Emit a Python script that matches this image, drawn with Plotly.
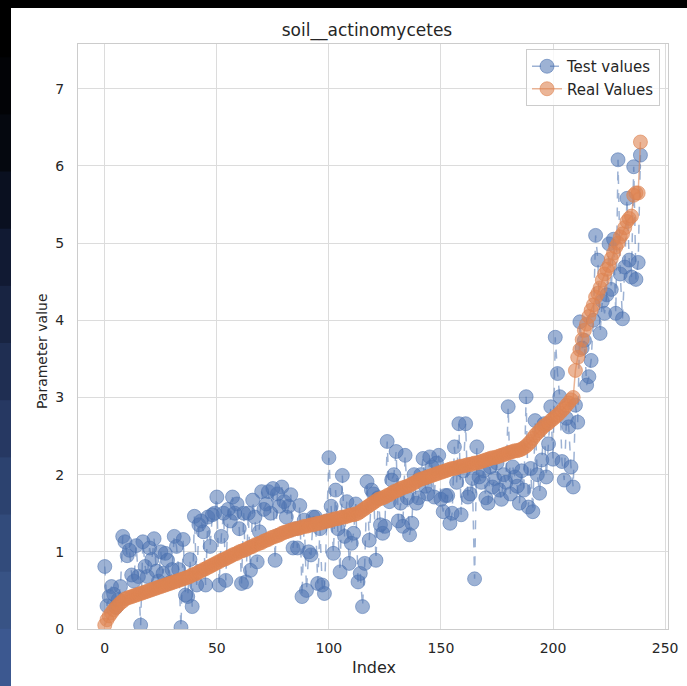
import plotly.graph_objects as go

# ---- data ----
test_values = [
    0.81, 0.30, 0.42, 0.55, 0.45, 0.28, 0.38, 0.55, 1.20, 1.13,
    0.95, 1.02, 0.70, 0.62, 1.08, 0.68, 0.05, 1.13, 0.81, 0.68,
    1.05, 0.90, 1.17, 0.75, 0.62, 1.00, 0.72, 0.98, 0.89, 0.60,
    0.77, 1.20, 1.07, 0.77, 0.02, 1.16, 0.44, 0.42, 0.90, 0.29,
    1.46, 0.57, 1.35, 1.40, 1.26, 0.57, 1.45, 1.07, 1.48, 1.50,
    1.71, 0.57, 1.20, 1.50, 0.63, 1.55, 1.40, 1.71, 1.50, 1.62,
    1.30, 0.59, 1.50, 0.61, 1.50, 0.76, 1.67, 1.45, 0.87, 1.26,
    1.78, 1.55, 1.62, 1.78, 1.50, 1.82, 0.89, 1.75, 1.59, 1.84,
    1.65, 1.45, 1.59, 1.74, 1.05, 1.30, 1.05, 1.60, 0.42, 1.41,
    0.50, 1.00, 0.96, 1.45, 1.45, 0.59, 1.30, 0.57, 0.46, 1.40,
    2.22, 1.59, 0.98, 1.80, 1.30, 0.74, 1.99, 1.20, 1.65, 0.85,
    1.11, 1.24, 1.62, 0.61, 0.72, 0.29, 0.85, 1.91, 1.15, 1.80,
    1.75, 0.89, 1.70, 1.35, 1.24, 1.33, 2.43, 1.65, 1.93, 2.00,
    2.30, 1.40, 1.63, 1.33, 2.25, 1.70, 1.22, 1.37, 2.00, 1.63,
    1.70, 2.00, 2.21, 1.85, 1.75, 2.23, 2.10, 1.71, 2.15, 2.25,
    1.68, 1.52, 1.73, 1.73, 1.37, 1.50, 2.36, 1.90, 2.66, 1.48,
    2.05, 2.66, 1.71, 1.75, 1.95, 0.65, 2.36, 1.97, 1.90, 2.05,
    1.70, 1.63, 2.10, 1.84, 1.95, 2.15, 1.80, 1.68, 2.00, 1.90,
    2.88, 1.75, 2.10, 1.97, 1.85, 1.63, 2.05, 1.80, 3.01, 1.58,
    2.08, 1.52, 2.70, 2.00, 1.76, 2.19, 2.66, 1.97, 2.40, 2.88,
    2.20, 3.78, 3.31, 3.01, 2.17, 1.93, 2.73, 2.62, 2.10, 1.84,
    2.90, 2.68, 3.98, 3.64, 3.74, 3.16, 3.27, 3.48, 4.00, 5.10,
    4.78, 3.83, 4.25, 4.09, 4.33, 4.99, 4.40, 5.05, 4.09, 6.08,
    4.60, 4.02, 4.69, 5.58, 4.78, 4.56, 5.99, 4.53, 4.75, 6.14,
]

real_values = [
    0.05, 0.12, 0.17, 0.21, 0.25, 0.28, 0.31, 0.34, 0.36, 0.39,
    0.40, 0.41, 0.42, 0.43, 0.44, 0.45, 0.46, 0.47, 0.48, 0.49,
    0.50, 0.51, 0.52, 0.53, 0.54, 0.55, 0.56, 0.57, 0.58, 0.59,
    0.60, 0.61, 0.62, 0.63, 0.64, 0.65, 0.66, 0.67, 0.68, 0.70,
    0.71, 0.72, 0.74, 0.75, 0.77, 0.78, 0.80, 0.81, 0.83, 0.84,
    0.86, 0.87, 0.89, 0.90, 0.91, 0.93, 0.94, 0.96, 0.97, 0.98,
    1.00, 1.01, 1.02, 1.03, 1.05, 1.06, 1.07, 1.09, 1.10, 1.11,
    1.12, 1.14, 1.15, 1.16, 1.18, 1.19, 1.20, 1.21, 1.22, 1.24,
    1.25, 1.26, 1.27, 1.28, 1.29, 1.30, 1.30, 1.31, 1.32, 1.33,
    1.33, 1.34, 1.35, 1.35, 1.36, 1.37, 1.37, 1.38, 1.39, 1.40,
    1.40, 1.41, 1.42, 1.43, 1.43, 1.44, 1.45, 1.45, 1.46, 1.47,
    1.48, 1.48, 1.49, 1.50, 1.52, 1.54, 1.56, 1.58, 1.60, 1.62,
    1.64, 1.66, 1.68, 1.69, 1.70, 1.71, 1.73, 1.74, 1.76, 1.78,
    1.79, 1.80, 1.82, 1.83, 1.84, 1.85, 1.86, 1.88, 1.89, 1.91,
    1.93, 1.94, 1.95, 1.96, 1.97, 1.98, 1.99, 2.00, 2.01, 2.02,
    2.03, 2.04, 2.05, 2.06, 2.07, 2.08, 2.08, 2.09, 2.10, 2.11,
    2.11, 2.12, 2.13, 2.13, 2.14, 2.15, 2.15, 2.16, 2.17, 2.18,
    2.19, 2.20, 2.21, 2.22, 2.22, 2.23, 2.24, 2.25, 2.26, 2.27,
    2.28, 2.29, 2.30, 2.31, 2.31, 2.32, 2.33, 2.35, 2.37, 2.40,
    2.43, 2.47, 2.51, 2.54, 2.57, 2.60, 2.63, 2.65, 2.67, 2.70,
    2.72, 2.75, 2.77, 2.80, 2.83, 2.86, 2.90, 2.93, 2.97, 3.00,
    3.35, 3.52, 3.62, 3.75, 3.87, 3.95, 4.05, 4.13, 4.20, 4.30,
    4.35, 4.42, 4.52, 4.60, 4.66, 4.71, 4.80, 4.87, 4.95, 5.00,
    5.08, 5.12, 5.20, 5.28, 5.32, 5.35, 5.62, 5.65, 5.65, 6.31,
]

index = list(range(len(real_values)))
x_ticks = [0, 50, 100, 150, 200, 250]
y_ticks = [0, 1, 2, 3, 4, 5, 6, 7]

BLUE = "76,114,176"
ORANGE = "221,132,82"

fig = go.Figure()
fig.add_trace(go.Scatter(
    x=index, y=test_values, name="Test values", mode="lines+markers",
    line=dict(color=f"rgba({BLUE},0.55)", width=1.5, dash="dash"),
    marker=dict(size=14, color=f"rgba({BLUE},0.55)",
                line=dict(color=f"rgba({BLUE},0.55)", width=1)),
))
fig.add_trace(go.Scatter(
    x=index, y=real_values, name="Real Values", mode="lines+markers",
    line=dict(color=f"rgba({ORANGE},0.6)", width=1.5),
    marker=dict(size=14, color=f"rgba({ORANGE},0.6)",
                line=dict(color=f"rgba({ORANGE},0.6)", width=1)),
))

# page pixels == figure pixels (body margin removed below)
W, H = 687, 686
L, R, T, B = 78, 19, 44, 57
PW, PH = float(W - L - R), float(H - T - B)
def px_x(p):
    return (p - L) / PW
def px_y(p):
    return (H - B - p) / PH

shapes = [dict(type="rect", xref="paper", yref="paper", x0=px_x(-2), x1=px_x(W + 2),
               y0=px_y(8), y1=px_y(-2), fillcolor="#000000", line=dict(width=0),
               layer="above")]
strip_cols = ["#000000", "#020306", "#05080f", "#0a1020", "#111a33", "#182442",
              "#1f2e52", "#263862", "#2c426f", "#324b7b", "#385385", "#3c5890"]
n = len(strip_cols)
for i, c in enumerate(strip_cols):
    top = i * H / n
    bot = (i + 1) * H / n + 1
    shapes.append(dict(type="rect", xref="paper", yref="paper",
                       x0=px_x(-2), x1=px_x(11), y0=px_y(bot), y1=px_y(top),
                       fillcolor=c, line=dict(width=0), layer="above"))

TXT = "#262626"
FONT = "DejaVu Sans, sans-serif"
fig.update_layout(
    width=W, height=H,
    margin=dict(l=L, r=R, t=T, b=B, autoexpand=False),
    paper_bgcolor="white", plot_bgcolor="white",
    font=dict(family=FONT, size=14, color=TXT),
    title=dict(text="soil__actinomycetes", x=px_x(367), xref="paper", xanchor="center",
               y=1 - 30 / H, yanchor="middle", font=dict(size=17, color=TXT)),
    showlegend=True,
    legend=dict(x=px_x(660), y=px_y(49), xanchor="right", yanchor="top",
                bgcolor="rgba(255,255,255,0.8)", bordercolor="#cccccc", borderwidth=1,
                font=dict(size=15, color=TXT), itemwidth=30, tracegroupgap=0),
    shapes=shapes,
    annotations=[
        dict(text="Parameter value", xref="paper", yref="paper",
             x=px_x(42), y=px_y(351), textangle=-90, showarrow=False,
             xanchor="center", yanchor="middle", font=dict(size=14, color=TXT)),
        dict(text="Index", xref="paper", yref="paper",
             x=px_x(374), y=px_y(667), showarrow=False,
             xanchor="center", yanchor="middle", font=dict(size=16, color=TXT)),
    ],
)
fig.update_xaxes(
    range=[-11.95, 251.3], tickvals=x_ticks, ticktext=[str(v) for v in x_ticks],
    showgrid=True, gridcolor="#dcdcdc", gridwidth=1, zeroline=False,
    showline=True, linecolor="#cccccc", linewidth=1, mirror=True,
    ticks="", tickfont=dict(size=14, color=TXT), ticklabelstandoff=6,
    automargin=False,
)
fig.update_yaxes(
    range=[0, 7.58], tickvals=y_ticks, ticktext=[str(v) for v in y_ticks],
    showgrid=True, gridcolor="#dcdcdc", gridwidth=1, zeroline=False,
    showline=True, linecolor="#cccccc", linewidth=1, mirror=True,
    ticks="", tickfont=dict(size=14, color=TXT), ticklabelstandoff=10,
    automargin=False,
)

fig.write_html(
    "out.html",
    config={"displayModeBar": False},
    post_script="document.body.style.margin='0';document.body.style.overflow='hidden';",
)
